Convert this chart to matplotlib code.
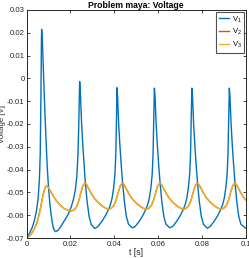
import matplotlib
matplotlib.use("Agg")
import matplotlib.pyplot as plt

# ---- data ----
t1 = [0.0, 0.0015, 0.0025, 0.0035, 0.0045, 0.0052, 0.0058, 0.0062, 0.0065, 0.00675, 0.00685,
      0.0072, 0.0077, 0.0083, 0.0089, 0.0094, 0.0100, 0.0106, 0.0112, 0.0120, 0.0127, 0.0133,
      0.0145, 0.0160, 0.0175, 0.0190, 0.0203, 0.0213, 0.0222, 0.0229, 0.0234, 0.0238, 0.0241, 0.0242,
      0.0245, 0.0250, 0.0256, 0.0262, 0.0268, 0.0276, 0.0285, 0.0295, 0.0312,
      0.0325, 0.0342, 0.0358, 0.0373, 0.0382, 0.0390, 0.0397, 0.0403, 0.0407, 0.0410, 0.0412,
      0.0415, 0.0420, 0.0426, 0.0432, 0.0438, 0.0446, 0.0455, 0.0465, 0.0482,
      0.0495, 0.0512, 0.0528, 0.0543, 0.0552, 0.0560, 0.0567, 0.0573, 0.0577, 0.0580, 0.0583,
      0.0586, 0.0591, 0.0597, 0.0603, 0.0609, 0.0617, 0.0626, 0.0636, 0.0653,
      0.0666, 0.0683, 0.0699, 0.0714, 0.0723, 0.0731, 0.0738, 0.0744, 0.0748, 0.0751, 0.0754,
      0.0757, 0.0762, 0.0768, 0.0774, 0.0780, 0.0788, 0.0797, 0.0807, 0.0824,
      0.0837, 0.0854, 0.0870, 0.0885, 0.0894, 0.0902, 0.0909, 0.0915, 0.0919, 0.0922, 0.0925,
      0.0928, 0.0933, 0.0939, 0.0945, 0.0951, 0.0959, 0.0968, 0.0978, 0.1000]
v1 = [-0.0700, -0.0675, -0.0655, -0.0625, -0.0580, -0.0530, -0.0450, -0.0330, -0.0100, 0.0170, 0.0215,
      0.0160, 0.0020, -0.0140, -0.0280, -0.0390, -0.0480, -0.0550, -0.0600, -0.0650, -0.0668, -0.0672,
      -0.0665, -0.0643, -0.0620, -0.0595, -0.0565, -0.0533, -0.0490, -0.0430, -0.0340, -0.0200, -0.0050, -0.0014,
      -0.0060, -0.0180, -0.0290, -0.0375, -0.0460, -0.0540, -0.0605, -0.0642, -0.0658,
      -0.0650, -0.0629, -0.0605, -0.0577, -0.0555, -0.0525, -0.0480, -0.0420, -0.0330, -0.0180, -0.0041,
      -0.0080, -0.0200, -0.0300, -0.0385, -0.0460, -0.0540, -0.0605, -0.0640, -0.0655,
      -0.0650, -0.0629, -0.0605, -0.0577, -0.0555, -0.0525, -0.0480, -0.0420, -0.0330, -0.0180, -0.0043,
      -0.0080, -0.0200, -0.0300, -0.0385, -0.0460, -0.0540, -0.0605, -0.0640, -0.0655,
      -0.0650, -0.0629, -0.0605, -0.0577, -0.0555, -0.0525, -0.0480, -0.0420, -0.0330, -0.0180, -0.0043,
      -0.0080, -0.0200, -0.0300, -0.0385, -0.0460, -0.0540, -0.0605, -0.0640, -0.0657,
      -0.0650, -0.0629, -0.0605, -0.0577, -0.0555, -0.0525, -0.0480, -0.0420, -0.0330, -0.0180, -0.0043,
      -0.0080, -0.0200, -0.0300, -0.0385, -0.0460, -0.0540, -0.0605, -0.0640, -0.0657]

t3 = [0.0, 0.0012, 0.0023, 0.0035, 0.0046, 0.0055, 0.0063, 0.0070, 0.0077, 0.0084, 0.0091,
      0.0099, 0.0109, 0.0121, 0.0136, 0.0152, 0.0170, 0.0187, 0.0203,
      0.0215, 0.0227, 0.0237, 0.0247, 0.0256, 0.0265, 0.0273, 0.0283, 0.0295, 0.0310, 0.0327, 0.0345, 0.0360, 0.0374,
      0.0386, 0.0398, 0.0408, 0.0418, 0.0427, 0.0436, 0.0444, 0.0454, 0.0466, 0.0481, 0.0498, 0.0516, 0.0531, 0.0545,
      0.0557, 0.0569, 0.0579, 0.0589, 0.0598, 0.0607, 0.0615, 0.0625, 0.0637, 0.0652, 0.0669, 0.0687, 0.0702, 0.0716,
      0.0728, 0.0740, 0.0750, 0.0760, 0.0769, 0.0778, 0.0786, 0.0796, 0.0808, 0.0823, 0.0840, 0.0858, 0.0873, 0.0887,
      0.0899, 0.0911, 0.0921, 0.0931, 0.0940, 0.0949, 0.0957, 0.0967, 0.0979, 0.0994, 0.1000]
v3 = [-0.0700, -0.0692, -0.0680, -0.0660, -0.0636, -0.0605, -0.0570, -0.0535, -0.0502, -0.0480, -0.0471,
      -0.0478, -0.0495, -0.0515, -0.0537, -0.0555, -0.0570, -0.0578, -0.0582,
      -0.0578, -0.0565, -0.0540, -0.0503, -0.0473, -0.0460, -0.0465, -0.0483, -0.0505, -0.0527, -0.0545, -0.0560, -0.0569, -0.0574,
      -0.0570, -0.0558, -0.0535, -0.0500, -0.0472, -0.0460, -0.0465, -0.0483, -0.0505, -0.0527, -0.0545, -0.0560, -0.0569, -0.0574,
      -0.0570, -0.0558, -0.0535, -0.0500, -0.0472, -0.0460, -0.0465, -0.0483, -0.0505, -0.0527, -0.0545, -0.0560, -0.0569, -0.0574,
      -0.0570, -0.0558, -0.0535, -0.0500, -0.0472, -0.0460, -0.0465, -0.0483, -0.0505, -0.0527, -0.0545, -0.0560, -0.0569, -0.0574,
      -0.0570, -0.0558, -0.0535, -0.0500, -0.0472, -0.0460, -0.0465, -0.0483, -0.0505, -0.0527, -0.0533]

# V2 is hidden beneath V3 in the reference
t2 = t3
v2 = v3

xticks = [0, 0.02, 0.04, 0.06, 0.08, 0.1]
xticklabels = ["0", "0.02", "0.04", "0.06", "0.08", "0.1"]
yticks = [0.03, 0.02, 0.01, 0, -0.01, -0.02, -0.03, -0.04, -0.05, -0.06, -0.07]
yticklabels = ["0.03", "0.02", "0.01", "0", "-0.01", "-0.02", "-0.03", "-0.04", "-0.05", "-0.06", "-0.07"]
labels = ["V$_1$", "V$_2$", "V$_3$"]
colors = ["#0072BD", "#D95319", "#EDB120"]

plt.rcParams['font.family'] = ['Liberation Sans', 'DejaVu Sans']
plt.rcParams['mathtext.fontset'] = 'custom'
plt.rcParams['mathtext.rm'] = 'Liberation Sans'

fig = plt.figure(figsize=(2.49, 2.58), dpi=100)
ax = fig.add_axes([0.107, 0.0775, 0.880, 0.884])

ax.plot(t1, v1, color=colors[0], lw=1.0, label=labels[0])
ax.plot(t2, v2, color=colors[1], lw=1.0, label=labels[1])
ax.plot(t3, v3, color=colors[2], lw=1.0, label=labels[2])

ax.set_xlim(0, 0.1)
ax.set_ylim(-0.07, 0.03)
ax.set_xticks(xticks)
ax.set_xticklabels(xticklabels)
ax.set_yticks(yticks)
ax.set_yticklabels(yticklabels)
ax.tick_params(direction='in', length=2.5, width=0.6, labelsize=5.6, colors='#262626',
               top=True, right=True, pad=1.5)
ax.tick_params(axis='x', pad=2)
for s in ax.spines.values():
    s.set_color('#262626')
    s.set_linewidth(0.7)

ax.set_title("Problem maya: Voltage", fontsize=6.2, fontweight='bold', pad=1.5, color='#000000')
ax.set_xlabel("t [s]", fontsize=6.2, color='#262626')
ax.set_ylabel("Voltage [V]", fontsize=5.6, color='#262626')
ax.xaxis.set_label_coords(0.5, -0.045)
ax.yaxis.set_label_coords(-0.093, 0.5)

leg = ax.legend(loc='upper right', fontsize=5.5, frameon=True, fancybox=False,
                edgecolor='#262626', handlelength=1.4, handletextpad=0.3,
                borderpad=0.3, labelspacing=0.3, borderaxespad=0.25)
leg.get_frame().set_linewidth(0.8)

fig.savefig("out.png", dpi=100)
